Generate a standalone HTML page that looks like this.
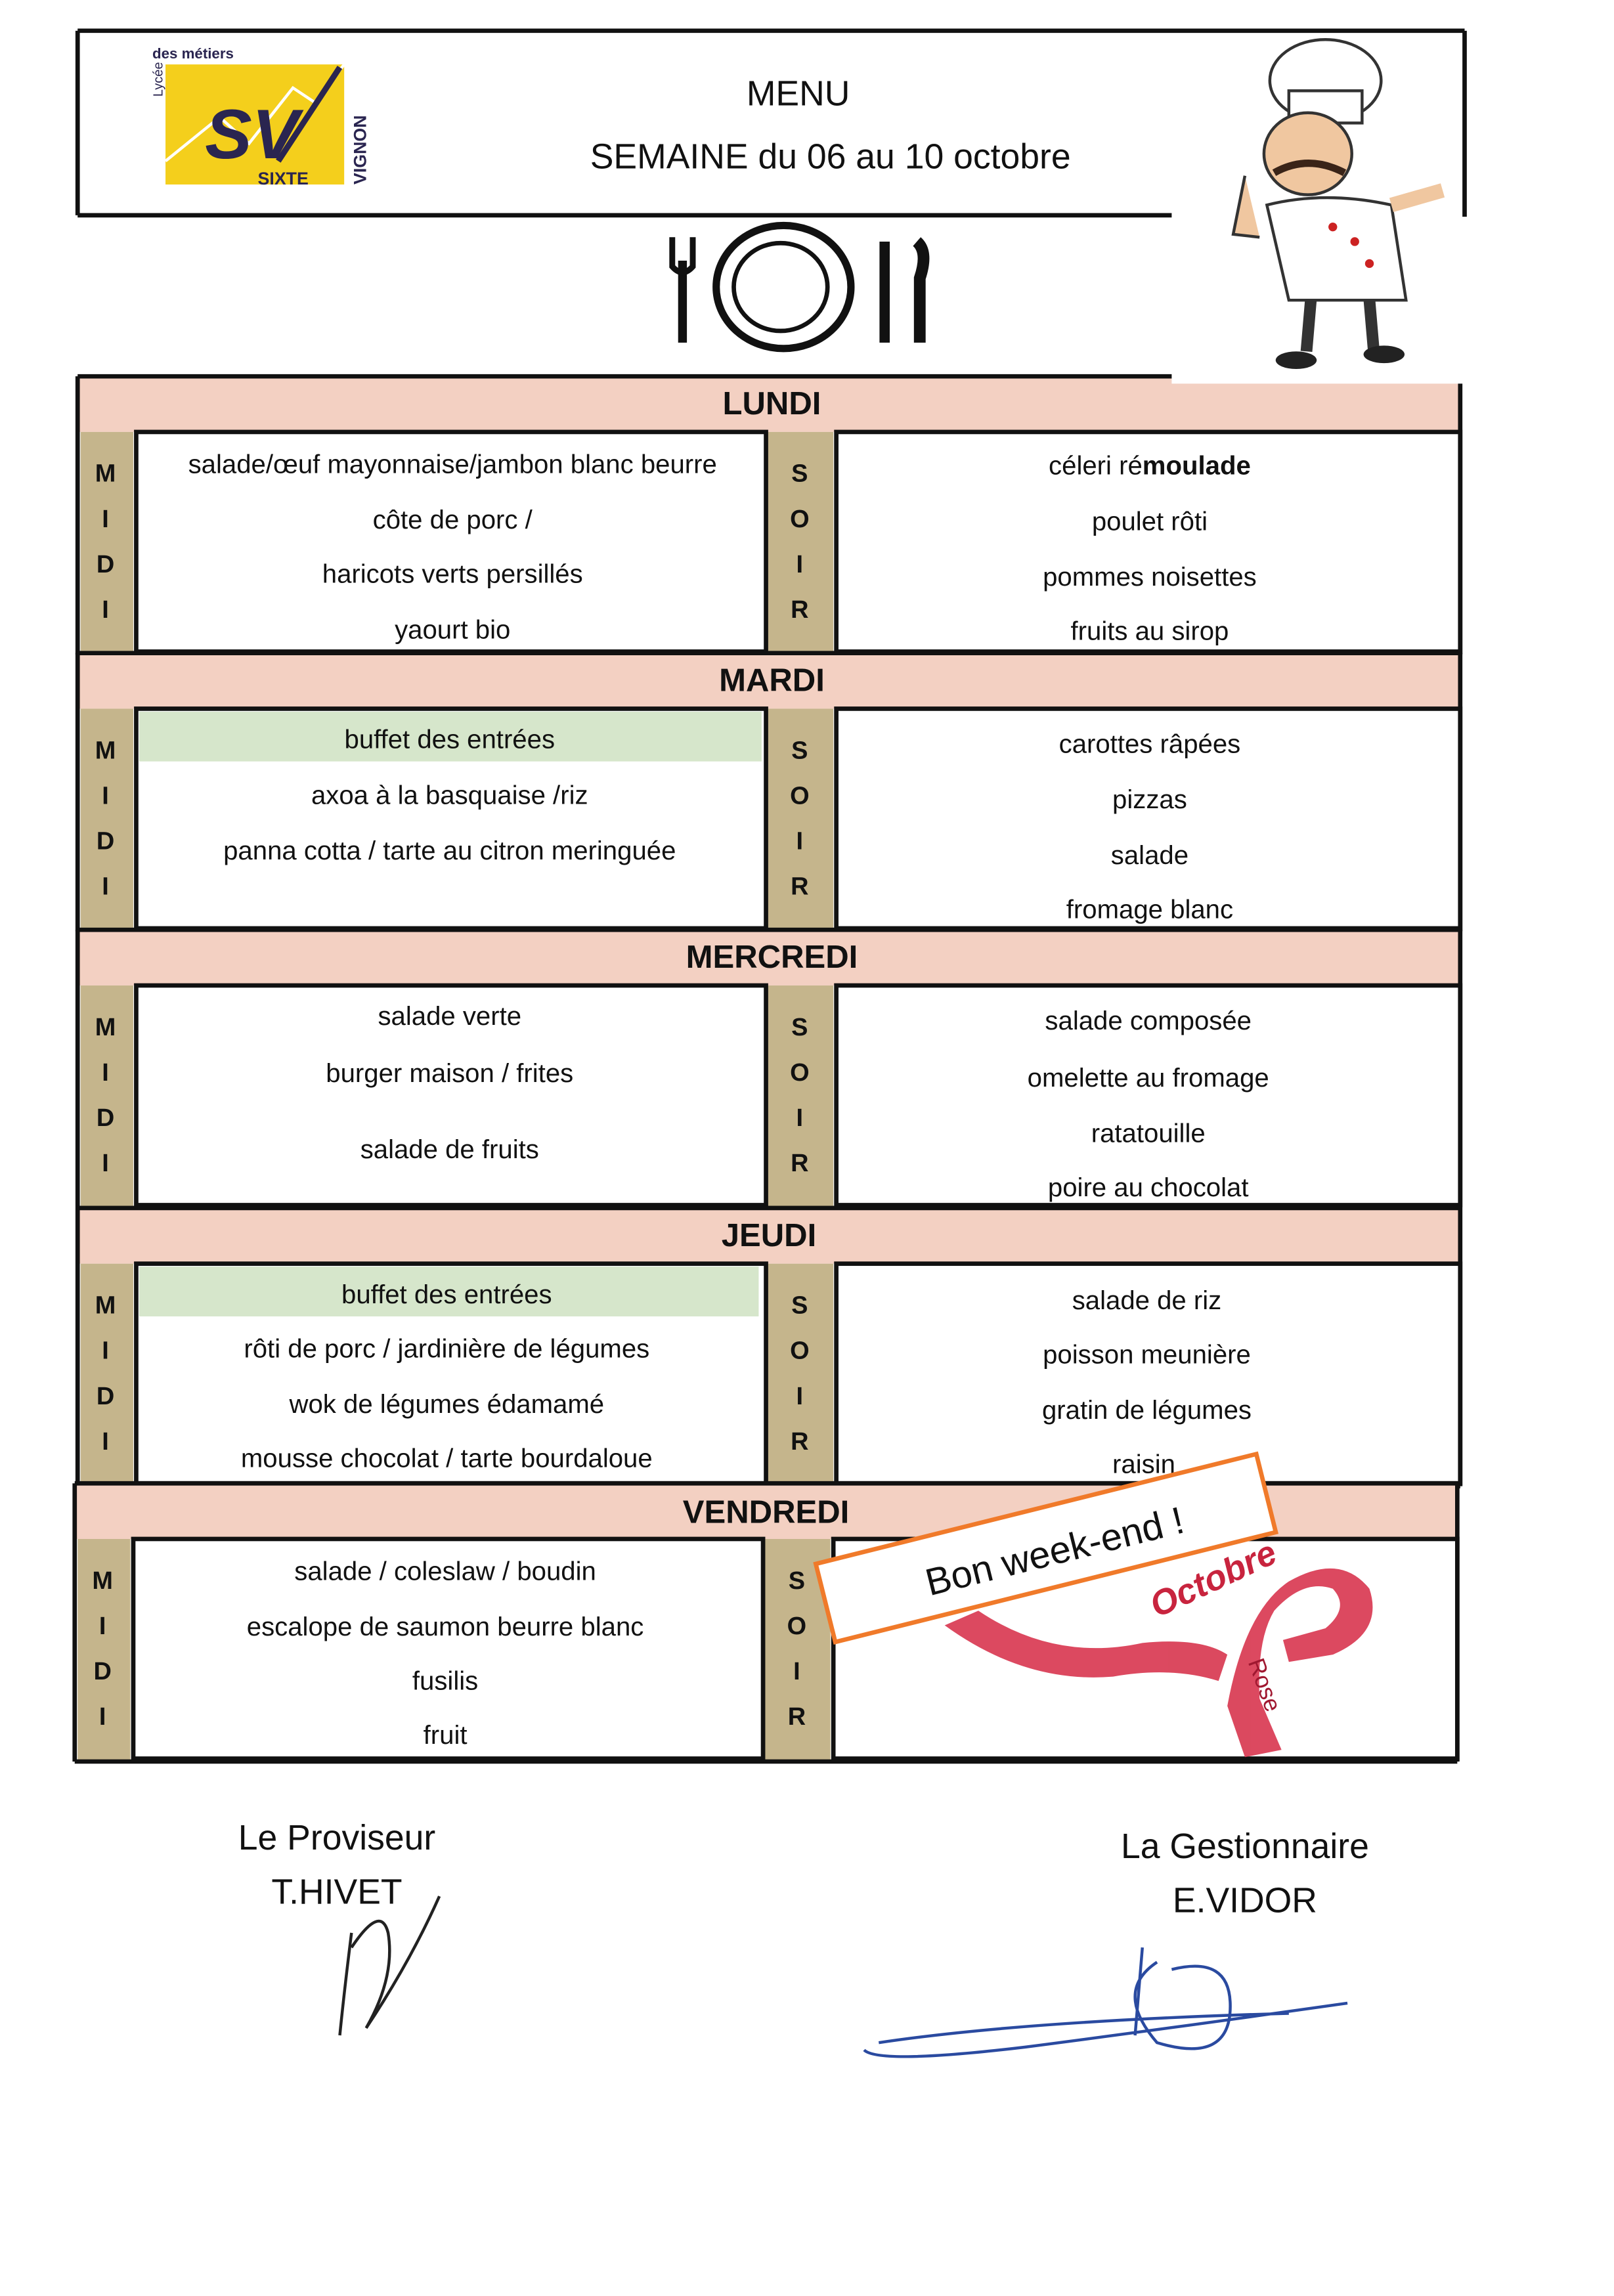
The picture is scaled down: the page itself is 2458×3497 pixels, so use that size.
<!DOCTYPE html>
<html><head><meta charset="utf-8"><style>
html,body{margin:0;padding:0;background:#fff;}
svg{display:block;}
text{font-family:"Liberation Sans",sans-serif;fill:#111;}
</style></head><body>
<svg width="2458" height="3497" viewBox="0 0 1102 1568" preserveAspectRatio="none" xmlns="http://www.w3.org/2000/svg">
<rect width="1102" height="1568" fill="#fff"/>
<path d="M53 21 H1000 M53 21 V147 M53 147 H800 M1000 21 V148" stroke="#111" stroke-width="3" fill="none"/>
<rect x="113" y="44" width="122" height="82" fill="#f4cf1c"/>
<polyline points="113,110 150,80 170,98 200,60 215,70 235,44" stroke="#fff" stroke-width="2" fill="none"/>
<text x="140" y="108" font-family="Liberation Serif" font-style="italic" font-weight="bold" font-size="48" style="fill:#2a2550">SV</text>
<path d="M190 110 L232 46" stroke="#2a2550" stroke-width="4"/>
<text x="104" y="40" font-size="10" font-weight="bold" style="fill:#2a2550">des métiers</text>
<text x="176" y="126" font-size="12" font-weight="bold" style="fill:#2a2550">SIXTE</text>
<text transform="translate(250,126) rotate(-90)" font-size="12" font-weight="bold" style="fill:#2a2550">VIGNON</text>
<text transform="translate(111,66) rotate(-90)" font-size="9" style="fill:#2a2550">Lycée</text>
<text x="545" y="72" font-size="24" text-anchor="middle">MENU</text>
<text x="567" y="115" font-size="24" text-anchor="middle">SEMAINE  du 06 au 10 octobre</text>
<g stroke="#111" fill="none">
<ellipse cx="535" cy="196" rx="46" ry="42" stroke-width="5"/>
<ellipse cx="533" cy="196" rx="32" ry="30" stroke-width="3"/>
<line x1="466" y1="178" x2="466" y2="234" stroke-width="6"/>
<path d="M459 162 V182 Q466 190 473 182 V162" stroke-width="4"/>
<line x1="604" y1="165" x2="604" y2="234" stroke-width="7"/>
<path d="M626 165 Q634 172 628 190 V234" stroke-width="8"/>
</g>
<g id="rows"></g>
<defs>
<g id="row">
<rect x="0" y="0" width="944" height="38" fill="#f3d0c2"/>
<rect x="2" y="38" width="36" height="152" fill="#c5b58c"/>
<rect x="470" y="38" width="46" height="152" fill="#c5b58c"/>
<rect x="40" y="38" width="430" height="150" fill="#fff" stroke="#111" stroke-width="3"/>
<rect x="518" y="38" width="426" height="150" fill="#fff" stroke="#111" stroke-width="3"/>
<line x1="0" y1="0" x2="944" y2="0" stroke="#111" stroke-width="3"/>
<line x1="0" y1="0" x2="0" y2="190" stroke="#111" stroke-width="3"/>
<line x1="944" y1="0" x2="944" y2="190" stroke="#111" stroke-width="3"/>
<line x1="0" y1="190" x2="944" y2="190" stroke="#111" stroke-width="3"/>
<g font-size="17" font-weight="bold" text-anchor="middle">
<text x="19" y="72" font-family="Liberation Mono">M</text><text x="19" y="103" font-family="Liberation Mono">I</text><text x="19" y="134" font-family="Liberation Mono">D</text><text x="19" y="165" font-family="Liberation Mono">I</text>
<text x="493" y="72" font-family="Liberation Mono">S</text><text x="493" y="103" font-family="Liberation Mono">O</text><text x="493" y="134" font-family="Liberation Mono">I</text><text x="493" y="165" font-family="Liberation Mono">R</text>
</g>
</g>
</defs>
<use href="#row" x="53" y="257"/>
<use href="#row" x="53" y="446"/>
<use href="#row" x="53" y="635"/>
<use href="#row" x="53" y="825"/>
<use href="#row" x="51" y="1013"/>
<!-- white patch behind chef over table top -->
<rect x="800" y="240" width="200" height="22" fill="#fff"/>
<g>
<ellipse cx="905" cy="55" rx="38" ry="28" fill="#fff" stroke="#333" stroke-width="2"/>
<rect x="880" y="62" width="50" height="22" fill="#fff" stroke="#333" stroke-width="2"/>
<ellipse cx="893" cy="105" rx="30" ry="28" fill="#f0c7a0" stroke="#333" stroke-width="2"/>
<path d="M870 118 Q893 105 918 118" stroke="#3a2418" stroke-width="5" fill="none"/>
<path d="M865 140 Q905 130 950 140 L960 205 L880 205 Z" fill="#fff" stroke="#333" stroke-width="2"/>
<circle cx="910" cy="155" r="3" fill="#c22"/><circle cx="925" cy="165" r="3" fill="#c22"/><circle cx="935" cy="180" r="3" fill="#c22"/>
<path d="M895 205 L892 240 M935 205 L938 240" stroke="#333" stroke-width="8"/>
<ellipse cx="885" cy="246" rx="14" ry="6" fill="#222"/><ellipse cx="945" cy="242" rx="14" ry="6" fill="#222"/>
<path d="M850 120 L842 160 L860 162" fill="#f0c7a0" stroke="#333" stroke-width="2"/>
<path d="M950 140 L985 130" stroke="#f0c7a0" stroke-width="10"/>
</g>
<rect x="95" y="486" width="425" height="34" fill="#d6e6cb"/>
<rect x="95" y="865" width="423" height="34" fill="#d6e6cb"/>
<g font-size="22" font-weight="bold" text-anchor="middle">
<text x="527" y="283">LUNDI</text>
<text x="527" y="472">MARDI</text>
<text x="527" y="661">MERCREDI</text>
<text x="525" y="851">JEUDI</text>
<text x="523" y="1040">VENDREDI</text>
</g>
<g font-size="18" text-anchor="middle">
<text x="309" y="323">salade/œuf mayonnaise/jambon blanc beurre</text>
<text x="309" y="361">côte de porc /</text>
<text x="309" y="398">haricots verts persillés</text>
<text x="309" y="436">yaourt bio</text>
<text x="785" y="324">céleri ré<tspan font-weight="bold">moulade</tspan></text>
<text x="785" y="362">poulet rôti</text>
<text x="785" y="400">pommes noisettes</text>
<text x="785" y="437">fruits au sirop</text>
<text x="307" y="511">buffet des entrées</text>
<text x="307" y="549">axoa à la basquaise  /riz</text>
<text x="307" y="587">panna cotta / tarte au citron meringuée</text>
<text x="785" y="514">carottes râpées</text>
<text x="785" y="552">pizzas</text>
<text x="785" y="590">salade</text>
<text x="785" y="627">fromage blanc</text>
<text x="307" y="700">salade verte</text>
<text x="307" y="739">burger maison  / frites</text>
<text x="307" y="791">salade de fruits</text>
<text x="784" y="703">salade composée</text>
<text x="784" y="742">omelette au fromage</text>
<text x="784" y="780">ratatouille</text>
<text x="784" y="817">poire au chocolat</text>
<text x="305" y="890">buffet des entrées</text>
<text x="305" y="927">rôti de porc / jardinière de légumes</text>
<text x="305" y="965">wok de légumes édamamé</text>
<text x="305" y="1002">mousse chocolat / tarte bourdaloue</text>
<text x="783" y="894">salade de riz</text>
<text x="783" y="931">poisson meunière</text>
<text x="783" y="969">gratin de légumes</text>
<text x="781" y="1006">raisin</text>
<text x="304" y="1079">salade / coleslaw / boudin</text>
<text x="304" y="1117">escalope de saumon beurre blanc</text>
<text x="304" y="1154">fusilis</text>
<text x="304" y="1191">fruit</text>
</g>
<!-- ribbon -->
<g fill="#d93a52" opacity="0.92">
<path d="M645 1110 L668 1100 Q720 1135 780 1122 Q820 1118 838 1130 L832 1148 Q800 1138 760 1145 Q700 1150 645 1110 Z"/>
<path d="M838 1165 Q850 1100 880 1080 Q915 1060 935 1085 Q945 1115 910 1130 L880 1135 L876 1120 L905 1112 Q922 1098 910 1085 Q890 1078 870 1100 Q858 1120 860 1160 L875 1195 L850 1200 Z"/>
</g>
<text transform="translate(790,1105) rotate(-25)" font-family="Liberation Serif" font-style="italic" font-weight="bold" font-size="24" style="fill:#c8243e">Octobre</text>
<text transform="translate(852,1135) rotate(70)" font-family="Liberation Serif" font-size="16" style="fill:#a01830">Rose</text>
<g transform="translate(557,1068) rotate(-14)">
<rect x="0" y="0" width="310" height="55" fill="#fff" stroke="#f07a2a" stroke-width="3"/>
<text x="70" y="40" font-size="26">Bon week-end !</text>
</g>
<g font-size="24" text-anchor="middle">
<text x="230" y="1263">Le Proviseur</text>
<text x="230" y="1300">T.HIVET</text>
<text x="850" y="1269">La Gestionnaire</text>
<text x="850" y="1306">E.VIDOR</text>
</g>
<path d="M240 1320 Q235 1360 232 1390 M240 1330 Q260 1300 265 1320 Q270 1350 250 1385 Q280 1340 300 1295" stroke="#222" stroke-width="2" fill="none"/>
<path d="M590 1400 Q600 1410 700 1398 Q800 1385 920 1368 M600 1395 Q700 1380 880 1375 M790 1340 Q760 1360 790 1395 Q840 1410 840 1370 Q840 1335 800 1345 M780 1330 L775 1390" stroke="#2a4aa0" stroke-width="2" fill="none"/>
</svg>
</body></html>
